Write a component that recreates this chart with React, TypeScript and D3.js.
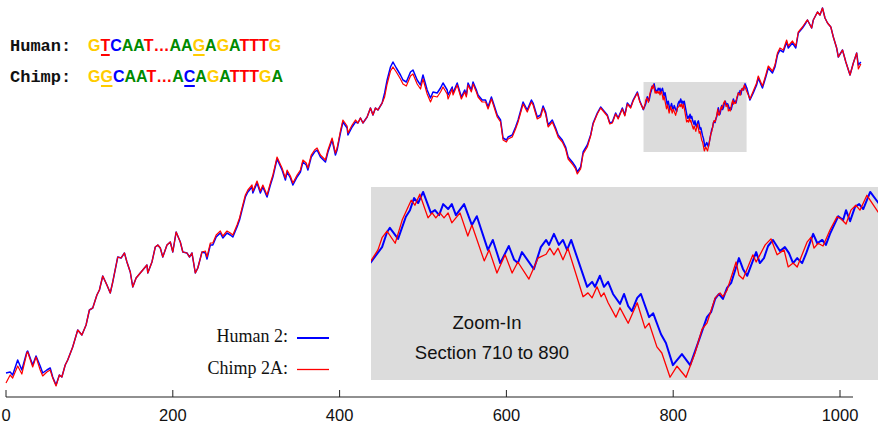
import React, { useLayoutEffect, useRef, useState } from "react";
import * as d3 from "d3";

type Pt = [number, number];

const xTicks = [0, 200, 400, 600, 800, 1000];

const human2Start: Pt[] = [[0,13.5],[5,14],[8,12.5],[14,20],[19,15],[25,24],[26,24.5],[32,17.5],[36,22],[41,17],[44,13.5],[49,15],[53,16],[56,11.5],[60,7.5],[64,12.5],[67,11.5],[71,17.5],[74,20],[80,26.5],[86,35],[91,32.5],[96,37.5],[100,45],[104,46],[109,52.5],[112,55],[116,62],[121,57.5],[125,53.5],[128,59],[134,71.5],[138,71],[142,73.5],[145,69],[149,64],[152,56.5],[156,61],[161,63.5],[164,65],[169,67.5],[170,63.5],[175,69],[179,76.5],[182,77.5],[185,76],[188,71.5],[193,77.5],[197,79],[200,74],[204,84],[209,79],[212,74],[217,73.5],[220,71.5],[223,73.5],[227,63.5],[230,66],[235,74],[239,73.5],[241,70.5],[245,77.5],[248,77.5],[252,81.5],[257,83.5],[260,81],[265,83.5],[269,82.5],[272,81.5],[277,86.5],[280,90],[283,95],[287,101.5],[290,104],[295,106.5],[296,103.5],[301,108.5],[305,103.5],[308,106.5],[313,101.5],[317,107.5],[320,111.5],[325,120.5],[331,115],[335,110],[337,114],[341,111],[344,107.5],[349,111.5],[353,114],[356,119],[360,117.5],[362,115],[366,121.5],[370,124],[373,125],[377,121.5],[383,119],[386,124],[391,130],[395,122.5],[397,125],[401,133.5],[404,139],[409,136],[410,132.5],[415,136.5],[419,139],[422,138.5],[425,141],[428,138.5],[433,141.5],[437,146],[440,142.5],[443,146],[446,145],[451,148.5],[454,153.5],[457,160],[461,166.5],[464,169],[468,166],[473,162.5],[476,160],[480,159],[485,164],[488,165],[493,160],[497,157.5],[500,162.5],[505,155],[509,151],[512,154],[517,153.5],[521,156],[524,158.5],[529,155],[530,152.5],[535,156.5],[536,153.5],[541,158.5],[546,151.5],[550,155],[552,152.5],[554,158.5],[558,155],[560,159],[564,155],[566,152.5],[571,150],[575,150],[578,146.5],[582,151.5],[584,149],[589,142.5],[593,140],[596,131],[600,130],[602,131.5],[607,132.5],[611,136.5],[614,140],[620,149],[625,145],[630,150],[632,148.5],[637,141.5],[641,142.5],[644,147],[647,144],[650,137.5],[655,140],[659,136],[662,132.5],[667,130],[671,126.5],[674,121.5],[679,119],[683,116.5],[685,114],[689,116.5],[692,124],[697,127.5],[701,132.5],[704,138.5],[709,143.5],[713,146.5],[716,145],[721,142.5],[724,138.5],[727,139],[731,143.5],[734,141],[739,146],[742,142.5],[745,148.5],[749,146.5],[752,150],[757,154],[760,149.5]];

const human2Section: Pt[] = [[764.2,145.2],[767.1,148.1],[768.3,150.8],[769.0,151.6],[771.0,149.6],[772.9,153.6],[773.9,154.8],[774.9,157.0],[775.9,156.1],[777.1,158.1],[779.0,154.3],[780.0,154.8],[781.0,153.9],[782.0,155.9],[783.2,155.0],[784.1,155.9],[785.1,153.9],[787.1,155.9],[789.0,152.1],[790.2,153.7],[792.9,147.6],[794.1,149.4],[795.9,145.2],[798.0,148.3],[799.3,145.8],[800.2,145.2],[801.2,147.2],[804.1,144.1],[805.8,148.1],[807.1,149.4],[807.8,148.5],[809.0,150.5],[810.2,148.5],[811.2,149.4],[812.2,147.6],[813.2,149.4],[817.1,140.9],[818.3,141.8],[819.0,140.9],[820.2,142.9],[821.2,140.9],[822.2,141.8],[823.4,139.6],[825.1,137.8],[826.1,139.6],[827.1,137.4],[828.0,136.5],[829.3,138.9],[830.2,139.6],[832.2,135.4],[833.2,136.1],[835.1,132.3],[836.3,130.7],[838.0,126.7],[840.2,128.7],[842.2,126.7],[844.1,130.7],[846.3,135.4],[847.3,136.3],[848.3,138.7],[849.2,139.6],[850.2,138.7],[851.2,140.7],[852.2,141.6],[854.1,146.1],[855.1,144.1],[856.1,142.9],[858.3,147.2],[859.2,145.2],[860.2,146.1],[861.2,148.3],[862.4,149.4],[864.1,147.4],[865.3,148.1],[866.3,147.0],[867.3,145.2],[868.3,146.1],[869.5,145.2],[870.5,147.0],[872.2,150.5],[873.2,148.8],[874.4,149.4],[875.3,148.5],[876.3,150.5],[878.3,153.7],[879.5,153.0],[880.2,154.8],[881.2,152.8],[882.4,155.4],[883.4,155.9],[884.4,155.0],[886.1,158.1]];

const human2End: Pt[] = [[888.5,155.7],[892,150],[896,153.5],[900,157.5],[902,161],[907,156],[911,161.5],[914,166],[919,163.5],[922,166.5],[925,172.5],[928,175],[932,174],[936,179],[938,176],[943,178.5],[947,176],[950,183.5],[955,186],[959,188.5],[961,190],[966,186],[968,190],[973,194],[976,192.5],[979,196],[982,191],[985,188.5],[989,186.5],[992,181.5],[996,176],[998,171.5],[1003,175],[1007,169],[1012,162.5],[1016,168.5],[1020,173.5],[1022,167.5],[1025,169]];

const chimp2AStart: Pt[] = [[0,8.5],[5,12.5],[8,11],[14,17],[19,13],[25,23.5],[26,24],[32,16.5],[36,21.5],[41,15],[44,12],[49,14],[53,15],[56,11],[60,7],[64,12.5],[67,11.5],[71,17.5],[74,20],[80,26.5],[86,35],[91,32.5],[96,37.5],[100,45],[104,46],[109,52.5],[112,55],[116,62],[121,57.5],[125,53.5],[128,59],[134,71.5],[138,71],[142,73.5],[145,69],[149,64],[152,56.5],[156,61],[161,63.5],[164,65],[169,67.5],[170,63.5],[175,69],[179,76.5],[182,77.5],[185,76],[188,71.5],[193,77.5],[197,79],[200,74],[204,84],[209,79],[212,74],[217,73.5],[220,71.5],[223,73.5],[227,63.5],[230,66],[235,74],[239,74.5],[241,71.5],[245,78.5],[248,78.5],[252,82.5],[257,84.5],[260,82],[265,84.5],[269,83.5],[272,82.5],[277,87.5],[280,91],[283,96],[287,102.5],[290,105],[295,107.5],[296,104.5],[301,109.5],[305,104.5],[308,107.5],[313,102.5],[317,108.5],[320,112.5],[325,121.5],[331,116],[335,111],[337,115],[341,112],[344,108.5],[349,112.5],[353,115],[356,120],[360,118.5],[362,116],[366,122.5],[370,125],[373,126],[377,122.5],[383,120],[386,125],[391,131],[395,123.5],[397,126],[401,134.5],[404,140],[409,137],[410,133.5],[415,137.5],[419,140],[422,138.5],[425,141],[428,138.5],[433,141.5],[437,146],[440,142.5],[443,146],[446,145],[451,148.5],[454,151.5],[457,158],[461,164.5],[464,166.5],[468,164],[473,160.5],[476,158],[480,157],[485,162],[488,163],[493,158],[497,155.5],[500,160.5],[505,153],[509,149],[512,152],[517,151.5],[521,154],[524,156.5],[529,153],[530,150.5],[535,155.5],[536,152.5],[541,157.5],[546,150.5],[550,154],[552,151.5],[554,157.5],[558,154],[560,158],[564,154],[566,151.5],[571,149],[575,149],[578,145.5],[582,150.5],[584,148],[589,141.5],[593,139],[596,130],[600,129],[602,130.5],[607,131.5],[611,135.5],[614,139],[620,148],[625,144],[630,149],[632,147.5],[637,140.5],[641,141.5],[644,146],[647,143],[650,136.5],[655,139],[659,135],[662,131.5],[667,129],[671,125.5],[674,120.5],[679,118],[683,115.5],[685,113],[689,115.5],[692,123],[697,126.5],[701,132],[704,138],[709,143],[713,146],[716,144.5],[721,142],[724,138],[727,138.5],[731,143],[734,140.5],[739,145.5],[742,142],[745,148],[749,146],[752,149.5],[757,153.5],[760,149]];

const chimp2ASection: Pt[] = [[764.2,145.4],[766.1,147.6],[767.1,149.8],[768.3,151.0],[770.3,148.8],[772.0,153.0],[774.2,156.6],[775.1,155.7],[776.3,157.7],[778.3,153.4],[779.3,154.3],[780.2,153.4],[781.2,154.3],[782.2,153.4],[783.2,154.3],[784.1,152.5],[786.1,154.3],[788.0,150.1],[789.0,152.1],[792.0,145.6],[793.2,147.6],[795.1,143.4],[797.1,146.7],[798.8,143.4],[800.2,145.4],[802.9,142.3],[805.1,146.1],[807.1,146.8],[808.0,147.9],[809.0,146.7],[810.0,147.9],[811.2,145.8],[812.4,147.9],[816.1,139.1],[817.3,139.8],[818.3,138.9],[819.5,140.9],[820.5,139.1],[821.2,139.8],[822.2,138.0],[824.1,135.4],[825.1,137.1],[826.3,135.4],[827.1,134.3],[829.3,138.0],[831.2,133.4],[832.2,134.3],[834.1,130.0],[835.3,128.9],[837.3,124.5],[839.0,126.5],[841.2,124.5],[843.4,128.9],[845.1,133.2],[846.3,134.3],[848.3,138.9],[849.5,139.8],[850.2,139.1],[851.2,140.3],[853.4,145.4],[854.1,143.0],[855.1,142.3],[857.5,146.7],[858.3,145.4],[860.5,148.5],[861.9,149.6],[863.4,146.7],[865.1,147.6],[866.1,144.5],[867.3,145.2],[868.3,144.5],[870.7,149.0],[871.7,149.9],[872.4,147.9],[873.4,148.8],[874.6,148.3],[876.3,151.2],[878.0,153.6],[879.0,153.2],[880.2,152.3],[881.4,154.8],[882.6,155.7],[883.6,154.8],[885.3,157.5],[888.0,154.5]];

const chimp2AEnd: Pt[] = [[889.5,153],[892,150.5],[896,154.5],[900,158.5],[902,162],[907,157],[911,162.5],[914,167],[919,164.5],[922,167.5],[925,173.5],[928,176],[932,175],[936,180],[938,177],[943,179.5],[947,177],[950,184],[955,186.5],[959,189],[961,190],[966,186],[968,190],[973,194],[976,192.5],[979,196],[982,191],[985,188.5],[989,186.5],[992,181.5],[996,176],[998,171.5],[1003,175],[1007,169],[1012,162.5],[1016,168.5],[1020,173.5],[1022,165.5],[1025,168]];

const sectionRange: [number, number] = [764.4, 888];
const sectionLevels: [number, number] = [124, 159];

const humanSeq = "GTCAAT\u2026AAGAGATTTG";
const chimpSeq = "GGCAAT\u2026ACAGATTTGA";
const humanMarks = [1, 9];
const chimpMarks = [1, 8];
const seqLabels = ["Human:", "Chimp:"];
const legendLabels = ["Human 2:", "Chimp 2A:"];
const insetLines = ["Zoom-In", "Section 710 to 890"];

const baseColors: Record<string, string> = {
  G: "#ffcc00",
  T: "#ff0000",
  C: "#0000ff",
  A: "#008a00",
  "\u2026": "#ff0000",
};

const SANS = "'Liberation Sans', Arial, Helvetica, sans-serif";
const SERIF = "'Liberation Serif', 'Times New Roman', serif";
const MONO = "'Liberation Mono', 'Courier New', monospace";

type Mark = { x: number; w: number; color: string; y: number };

function SeqText({ seq, marks, y }: { seq: string; marks: number[]; y: number }) {
  const ref = useRef<SVGTextElement>(null);
  const [rects, setRects] = useState<Mark[]>([]);
  useLayoutEffect(() => {
    const measure = () => {
      const el = ref.current;
      if (!el) return;
      const out: Mark[] = [];
      for (const i of marks) {
        const ext = el.getExtentOfChar(i);
        out.push({ x: ext.x + 0.5, w: ext.width - 1, color: baseColors[seq[i]], y });
      }
      setRects(out);
    };
    measure();
    if ((document as any).fonts && (document as any).fonts.ready) {
      (document as any).fonts.ready.then(measure);
    }
  }, [seq]);
  return (
    <g>
      <text ref={ref} x={88} y={y} fontFamily={SANS} fontWeight="bold" fontSize={16}>
        {seq.split("").map((c, i) => (
          <tspan key={i} fill={baseColors[c]}>{c}</tspan>
        ))}
      </text>
      {rects.map((r, i) => (
        <rect key={i} x={r.x} y={r.y + 3} width={r.w} height={2} fill={r.color} />
      ))}
    </g>
  );
}

export default function App() {
  const W = 880;
  const H = 425;
  const x = d3.scaleLinear().domain([0, 1000]).range([6, 840]);
  const y = d3.scaleLinear().domain([0, 200]).range([400, 0]);

  const human = [...human2Start, ...human2Section, ...human2End];
  const chimp = [...chimp2AStart, ...chimp2ASection, ...chimp2AEnd];

  const line = d3.line<Pt>().x((d) => x(d[0])).y((d) => y(d[1]));

  const zx = d3.scaleLinear().domain(sectionRange).range([371, 878]);
  const zy = d3.scaleLinear().domain(sectionLevels).range([380, 187]);
  const zline = d3.line<Pt>().x((d) => zx(d[0])).y((d) => zy(d[1]));
  const near = (d: Pt) => d[0] >= sectionRange[0] - 12 && d[0] <= sectionRange[1] + 12;

  const axisY = 397;

  return (
    <svg
      width={W}
      height={H}
      viewBox={`0 0 ${W} ${H}`}
      style={{ position: "absolute", left: 0, top: 0, background: "#fff" }}
    >
      <defs>
        <clipPath id="insetClip">
          <rect x={zx(sectionRange[0])} y={zy(sectionLevels[1])} width={zx(sectionRange[1]) - zx(sectionRange[0])} height={zy(sectionLevels[0]) - zy(sectionLevels[1])} />
        </clipPath>
      </defs>

      {/* section box on the main chart */}
      <rect
        x={x(sectionRange[0])}
        y={y(sectionLevels[1])}
        width={x(sectionRange[1]) - x(sectionRange[0])}
        height={y(sectionLevels[0]) - y(sectionLevels[1])}
        fill="#dcdcdc"
      />

      {/* main lines */}
      <path d={line(human) || ""} fill="none" stroke="#0000ff" strokeWidth={1.5} strokeLinejoin="round" />
      <path d={line(chimp) || ""} fill="none" stroke="#ff0000" strokeWidth={1.2} strokeLinejoin="round" />

      {/* inset */}
      <rect
        x={zx(sectionRange[0])}
        y={zy(sectionLevels[1])}
        width={zx(sectionRange[1]) - zx(sectionRange[0])}
        height={zy(sectionLevels[0]) - zy(sectionLevels[1])}
        fill="#dcdcdc"
      />
      <g clipPath="url(#insetClip)">
        <path d={zline(human.filter(near)) || ""} fill="none" stroke="#0000ff" strokeWidth={2} strokeLinejoin="round" />
        <path d={zline(chimp.filter(near)) || ""} fill="none" stroke="#ff0000" strokeWidth={1.3} strokeLinejoin="round" />
      </g>
      <text x={487} y={329} textAnchor="middle" fontFamily={SANS} fontSize={18.5} fill="#111">{insetLines[0]}</text>
      <text x={492} y={359} textAnchor="middle" fontFamily={SANS} fontSize={18.5} fill="#111">{insetLines[1]}</text>

      {/* axis */}
      <line x1={x(0)} x2={853} y1={axisY} y2={axisY} stroke="#222" strokeWidth={1.2} />
      {xTicks.map((t) => (
        <g key={t}>
          <line x1={x(t)} x2={x(t)} y1={axisY} y2={axisY - 7} stroke="#222" strokeWidth={1} />
          <text x={x(t)} y={421} textAnchor="middle" fontFamily={SANS} fontSize={16.5} fill="#111">{t}</text>
        </g>
      ))}

      {/* legend */}
      <text x={288} y={342} textAnchor="end" fontFamily={SERIF} fontSize={18} fill="#111">{legendLabels[0]}</text>
      <line x1={297} x2={329} y1={338} y2={338} stroke="#0000ff" strokeWidth={2} />
      <text x={288} y={374} textAnchor="end" fontFamily={SERIF} fontSize={18} fill="#111">{legendLabels[1]}</text>
      <line x1={297} x2={329} y1={369.5} y2={369.5} stroke="#ff0000" strokeWidth={1.3} />

      {/* sequences */}
      <text x={10} y={51} fontFamily={MONO} fontWeight="bold" fontSize={17} fill="#111">{seqLabels[0]}</text>
      <text x={10} y={82} fontFamily={MONO} fontWeight="bold" fontSize={17} fill="#111">{seqLabels[1]}</text>
      <SeqText seq={humanSeq} marks={humanMarks} y={51} />
      <SeqText seq={chimpSeq} marks={chimpMarks} y={82} />
    </svg>
  );
}
